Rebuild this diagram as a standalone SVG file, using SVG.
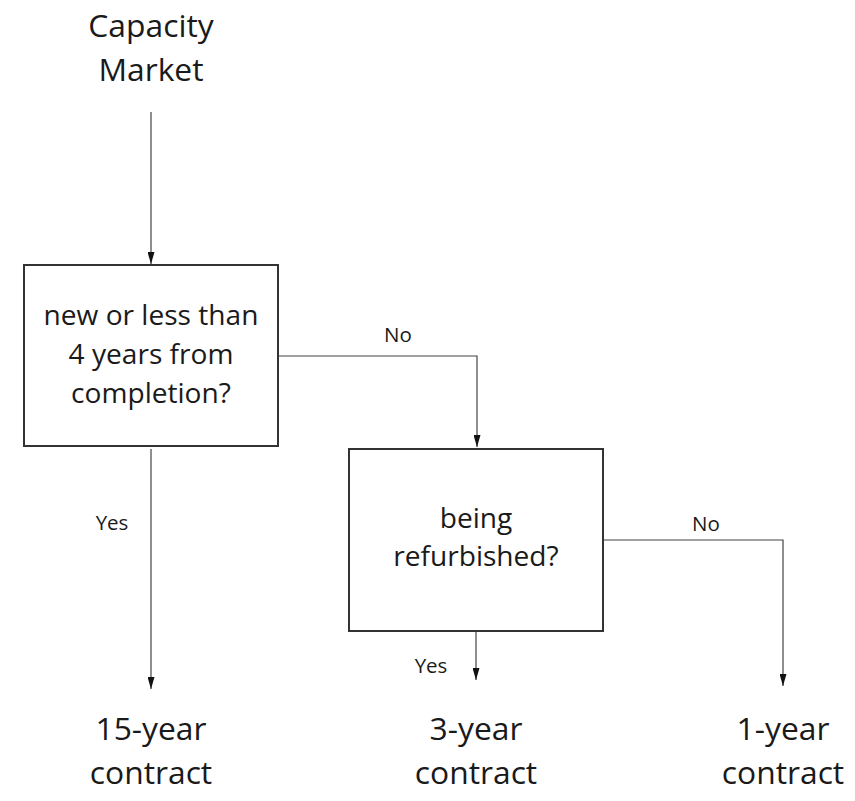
<svg xmlns="http://www.w3.org/2000/svg" width="855" height="801" viewBox="0 0 855 801">
<style>
.big{font-family:"Open Sans","Noto Sans",sans-serif;font-size:31.8px;fill:#1a1a1a;text-anchor:middle}
.mid{font-family:"Open Sans","Noto Sans",sans-serif;font-size:28.1px;fill:#1a1a1a;text-anchor:middle}
.lbl{font-family:"Open Sans","Noto Sans",sans-serif;font-size:20.5px;fill:#1a1a1a;text-anchor:middle}
.box{fill:#fff;stroke:#333;stroke-width:2}
.conn{fill:none;stroke:#444;stroke-width:1.2}
</style>
<defs>
<marker id="ah" markerWidth="12" markerHeight="7" refX="12" refY="3.5" orient="auto" markerUnits="userSpaceOnUse" viewBox="0 0 12 7">
<path d="M0,0 L12,3.5 L0,7 Z" fill="#111"/>
</marker>
</defs>
<rect width="855" height="801" fill="#fff"/>
<g id="connectors">
<path class="conn" d="M151,112 V264" marker-end="url(#ah)"/>
<path class="conn" d="M279,356 H477 V447" marker-end="url(#ah)"/>
<path class="conn" d="M151,449 V689" marker-end="url(#ah)"/>
<path class="conn" d="M476,632 V680" marker-end="url(#ah)"/>
<path class="conn" d="M604,540 H783 V686" marker-end="url(#ah)"/>
<text class="lbl" x="398" y="342">No</text>
<text class="lbl" x="112" y="530">Yes</text>
<text class="lbl" x="431" y="673">Yes</text>
<text class="lbl" x="706" y="531">No</text>
</g>
<g id="start">
<text class="big" x="151" y="37">Capacity</text>
<text class="big" x="151" y="81">Market</text>
</g>
<g id="q1">
<rect class="box" x="24" y="265" width="254" height="181"/>
<text class="mid" x="151" y="325">new or less than</text>
<text class="mid" x="151" y="364">4 years from</text>
<text class="mid" x="151" y="403">completion?</text>
</g>
<g id="q2">
<rect class="box" x="349" y="449" width="254" height="182"/>
<text class="mid" x="476" y="528">being</text>
<text class="mid" x="476" y="566">refurbished?</text>
</g>
<g id="r15">
<text class="big" x="151" y="740">15-year</text>
<text class="big" x="151" y="784">contract</text>
</g>
<g id="r3">
<text class="big" x="476" y="740">3-year</text>
<text class="big" x="476" y="784">contract</text>
</g>
<g id="r1">
<text class="big" x="783" y="740">1-year</text>
<text class="big" x="783" y="784">contract</text>
</g>
</svg>
